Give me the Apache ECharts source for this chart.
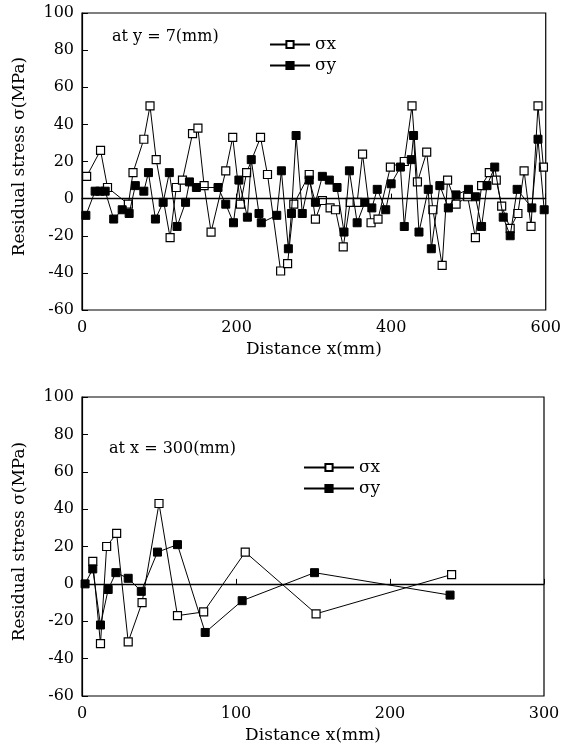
<!DOCTYPE html>
<html>
<head>
<meta charset="utf-8">
<script src="https://cdn.jsdelivr.net/npm/echarts@6/dist/echarts.min.js"></script>
<style>
  html, body { margin: 0; padding: 0; background: #fff; }
  #chart { width: 564px; height: 747px; }
</style>
</head>
<body>
<div id="chart"></div>
<script>
// top panel: at y = 7 mm
const topSxX = [6, 24, 33, 60, 66, 80, 88, 96, 114, 122, 130, 143, 150, 158, 167, 186, 195, 205, 213, 231, 240, 257, 266, 274, 294, 302, 311, 321, 328, 338, 347, 356, 363, 374, 383, 399, 417, 427, 434, 446, 454, 466, 473, 484, 499, 509, 517, 527, 536, 543, 554, 564, 572, 581, 590, 597]
const topSxY = [12, 26, 6, -3, 14, 32, 50, 21, -21, 6, 10, 35, 38, 7, -18, 15, 33, -3, 14, 33, 13, -39, -35, -3, 13, -11, -1, -5, -6, -26, -2, -2, 24, -13, -11, 17, 20, 50, 9, 25, -6, -36, 10, -3, 1, -21, 7, 14, 10, -4, -16, -8, 15, -15, 50, 17]
const topSyX = [5, 17, 23, 30, 41, 52, 61, 69, 80, 86, 95, 105, 113, 123, 134, 139, 148, 176, 186, 196, 203, 214, 219, 229, 232, 252, 258, 267, 271, 277, 285, 294, 302, 311, 320, 330, 339, 346, 356, 366, 375, 382, 393, 400, 412, 417, 426, 429, 436, 448, 452, 463, 474, 484, 500, 509, 517, 524, 534, 545, 554, 563, 582, 590, 598]
const topSyY = [-9, 4, 4, 4, -11, -6, -8, 7, 4, 14, -11, -2, 14, -15, -2, 9, 6, 6, -3, -13, 10, -10, 21, -8, -13, -9, 15, -27, -8, 34, -8, 10, -2, 12, 10, 6, -18, 15, -13, -2, -5, 5, -6, 8, 17, -15, 21, 34, -18, 5, -27, 7, -5, 2, 5, 1, -15, 7, 17, -10, -20, 5, -5, 32, -6]

// bottom panel: at x = 300 mm
const botSxX = [7, 12, 16, 22.5, 30, 39, 50, 62, 79, 106, 152, 240]
const botSxY = [12, -32, 20, 27, -31, -10, 43, -17, -15, 17, -16, 5]
const botSyX = [2, 7, 12, 17, 22, 30, 38.5, 49, 62, 80, 104, 151, 239]
const botSyY = [0, 8, -22, -3, 6, 3, -4, 17, 21, -26, -9, 6, -6]

const yTicks = [-60, -40, -20, 0, 20, 40, 60, 80, 100]
const seriesNames = ['σx', 'σy']

const FONT = 'DejaVu Serif'

const pairs = (xs, ys) => xs.map((x, i) => [x, ys[i]])

const zeroLine = {
  silent: true,
  symbol: ['none', 'none'],
  label: { show: false },
  lineStyle: { color: '#000', width: 1.4, type: 'solid' },
  data: [{ yAxis: 0 }],
}

function makeSeries(name, data, gridIdx, open, withZero) {
  const s = {
    name: name,
    type: 'line',
    xAxisIndex: gridIdx,
    yAxisIndex: gridIdx,
    data: data,
    symbol: 'rect',
    symbolSize: 8,
    lineStyle: { color: '#000', width: 1 },
    itemStyle: open
      ? { color: '#fff', borderColor: '#000', borderWidth: 1.2 }
      : { color: '#000', borderColor: '#000', borderWidth: 1 },
    z: open ? 3 : 4,
  }
  if (withZero) s.markLine = zeroLine
  return s
}

function xAxisOf(gridIdx, max, interval) {
  return {
    type: 'value',
    gridIndex: gridIdx,
    min: 0,
    max: max,
    interval: interval,
    name: 'Distance x(mm)',
    nameLocation: 'middle',
    nameGap: 31,
    nameTextStyle: { fontFamily: FONT, fontSize: 17, color: '#000' },
    axisLine: { lineStyle: { color: '#000', width: 1.2 } },
    axisTick: { inside: true, length: 5, lineStyle: { color: '#000' } },
    axisLabel: { fontFamily: FONT, fontSize: 16, color: '#000', margin: 10 },
    splitLine: { show: false },
  }
}

function yAxisOf(gridIdx) {
  return {
    type: 'value',
    gridIndex: gridIdx,
    min: yTicks[0],
    max: yTicks[yTicks.length - 1],
    interval: 20,
    name: 'Residual stress σ(MPa)',
    nameLocation: 'middle',
    nameGap: 54,
    nameTextStyle: { fontFamily: FONT, fontSize: 17, color: '#000', padding: [0, 0, 0, 10] },
    axisLine: { lineStyle: { color: '#000', width: 1.2 } },
    axisTick: { inside: true, length: 6, lineStyle: { color: '#000' } },
    axisLabel: { fontFamily: FONT, fontSize: 16, color: '#000', margin: 8 },
    splitLine: { show: false },
  }
}

const chart = echarts.init(document.getElementById('chart'), null, { renderer: 'canvas' })

chart.setOption({
  animation: false,
  backgroundColor: '#fff',
  title: [
    { text: 'at y = 7(mm)', left: 107, top: 24, textStyle: { fontFamily: FONT, fontSize: 16, fontWeight: 'normal', color: '#000' } },
    { text: 'at x = 300(mm)', left: 104, top: 436, textStyle: { fontFamily: FONT, fontSize: 16, fontWeight: 'normal', color: '#000' } },
  ],
  legend: [
    {
      data: seriesNames,
      orient: 'vertical',
      left: 269,
      top: 36,
      padding: 0,
      itemWidth: 40,
      itemHeight: 9,
      itemGap: 4,
      textStyle: { fontFamily: FONT, fontSize: 17, color: '#000' },
    },
    {
      data: seriesNames,
      orient: 'vertical',
      left: 303,
      top: 459,
      padding: 0,
      itemWidth: 50,
      itemHeight: 9,
      itemGap: 4,
      textStyle: { fontFamily: FONT, fontSize: 17, color: '#000' },
    },
  ],
  grid: [
    { left: 82, right: 15, top: 13, height: 297, show: true, borderColor: '#000', borderWidth: 1.2, backgroundColor: 'transparent' },
    { left: 82, right: 20, top: 397, height: 299, show: true, borderColor: '#000', borderWidth: 1.2, backgroundColor: 'transparent' },
  ],
  xAxis: [xAxisOf(0, 600, 200), xAxisOf(1, 300, 100)],
  yAxis: [yAxisOf(0), yAxisOf(1)],
  series: [
    makeSeries('σx', pairs(topSxX, topSxY), 0, true, true),
    makeSeries('σy', pairs(topSyX, topSyY), 0, false, false),
    makeSeries('σx', pairs(botSxX, botSxY), 1, true, true),
    makeSeries('σy', pairs(botSyX, botSyY), 1, false, false),
  ],
})
</script>
</body>
</html>
